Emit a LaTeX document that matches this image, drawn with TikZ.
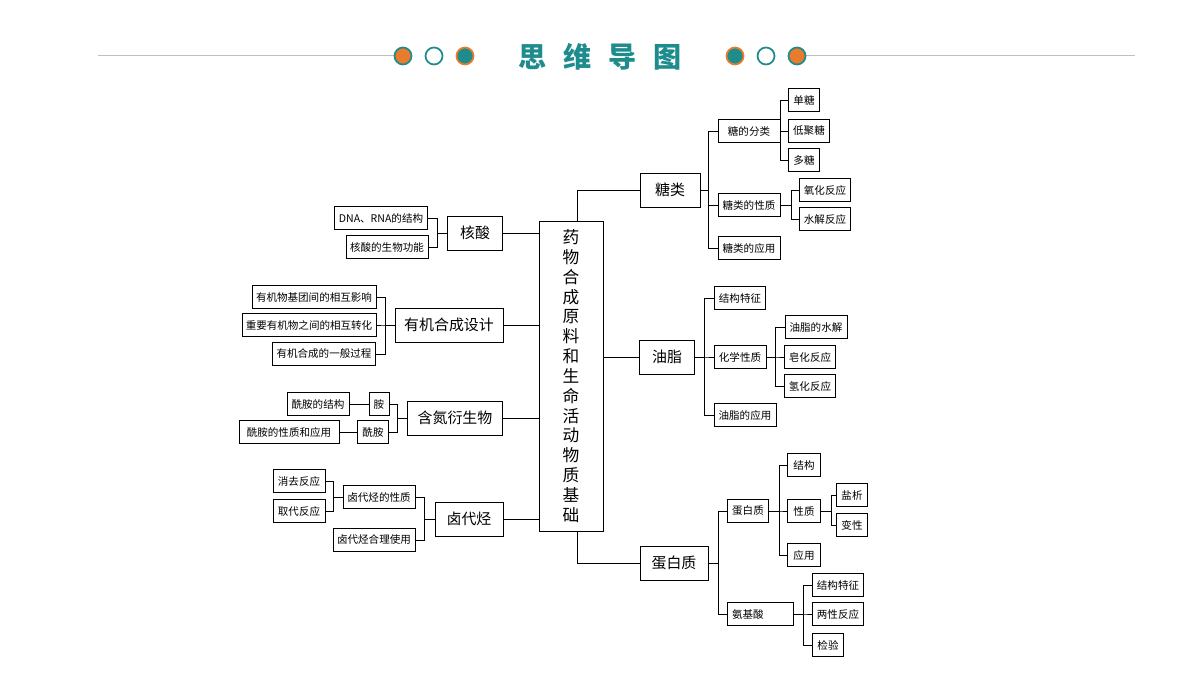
\documentclass[tikz,border=0pt]{standalone}
\usepackage{fontspec}
\setmainfont{Noto Sans CJK SC}
\usetikzlibrary{positioning}
\definecolor{teal1}{HTML}{1E8C8C}
\definecolor{orange1}{HTML}{E87B2C}
\newlength{\pxu}\setlength{\pxu}{0.02cm}
\tikzset{
  leaf/.style={draw, thin, inner sep=0pt, minimum height=23\pxu, font=\fontsize{6}{7}\selectfont},
  mid/.style={draw, thin, inner sep=0pt, minimum height=34\pxu, font=\fontsize{8.5}{9}\selectfont},
  link/.style={draw, thin},
}
\newcommand{\rbranch}[3]{\draw[link] (#1.east) -- ++(#2\pxu,0) |- (#3.west);}
\newcommand{\lbranch}[3]{\draw[link] (#1.west) -- ++(-#2\pxu,0) |- (#3.east);}
\begin{document}
\begin{tikzpicture}[x=0.02cm, y=-0.02cm]
\useasboundingbox (0,0) rectangle (1200,675);
%% title bar
\draw[gray!50, thin] (98,55) -- (395,55);
\draw[gray!50, thin] (805,55) -- (1135,55);
\draw[teal1, line width=1pt, fill=orange1] (403,56) circle (8.5);
\draw[teal1, line width=1pt, fill=white] (434,56) circle (8.5);
\draw[orange1, line width=1pt, fill=teal1] (465,56) circle (8.5);
\draw[orange1, line width=1pt, fill=teal1] (735,56) circle (8.5);
\draw[teal1, line width=1pt, fill=white] (766,56) circle (8.5);
\draw[teal1, line width=1pt, fill=orange1] (797,56) circle (8.5);
\node[text=teal1, font=\fontsize{16}{18}\bfseries] (title) at (600,57) {思\hspace{0.6em}维\hspace{0.6em}导\hspace{0.6em}图};
%% center
\node[draw, thin, minimum width=64\pxu, minimum height=310\pxu, align=center, font=\fontsize{9.5}{11.3}\selectfont] (root) at (571,376)
  {药\\物\\合\\成\\原\\料\\和\\生\\命\\活\\动\\物\\质\\基\\础};
%% left side
\node[mid, minimum width=55\pxu] (hs) at (475,233) {核酸};
\node[leaf, minimum width=93\pxu] (hs1) at (381,218) {DNA、RNA的结构};
\node[leaf, minimum width=82\pxu] (hs2) at (387,247) {核酸的生物功能};
\node[mid, minimum width=108\pxu] (yj) at (449,325) {有机合成设计};
\node[leaf, minimum width=124\pxu] (yj1) at (314,297) {有机物基团间的相互影响};
\node[leaf, minimum width=134\pxu] (yj2) at (309,325) {重要有机物之间的相互转化};
\node[leaf, minimum width=103\pxu] (yj3) at (324,354) {有机合成的一般过程};
\node[mid, minimum width=95\pxu] (hd) at (455,418) {含氮衍生物};
\node[leaf, minimum width=20\pxu] (an) at (379,404) {胺};
\node[leaf, minimum width=31\pxu] (xa) at (373,432) {酰胺};
\node[leaf, minimum width=62\pxu] (an1) at (318,404) {酰胺的结构};
\node[leaf, minimum width=100\pxu] (xa1) at (289,432) {酰胺的性质和应用};
\node[mid, minimum width=68\pxu] (ld) at (469,519) {卤代烃};
\node[leaf, minimum width=72\pxu] (ld1) at (379,497) {卤代烃的性质};
\node[leaf, minimum width=82\pxu] (ld2) at (374,540) {卤代烃合理使用};
\node[leaf, minimum width=52\pxu] (xq) at (299,481) {消去反应};
\node[leaf, minimum width=52\pxu] (qd) at (299,511) {取代反应};
\foreach \n in {hs,yj,hd,ld} \draw[link] (root.west |- \n) -- (\n.east);
\foreach \c in {hs1,hs2} {\lbranch{hs}{10}{\c}}
\foreach \c in {yj1,yj2,yj3} {\lbranch{yj}{9}{\c}}
\foreach \c in {an,xa} {\lbranch{hd}{10}{\c}}
\draw[link] (an.west) -- (an1.east);
\draw[link] (xa.west) -- (xa1.east);
\foreach \c in {ld1,ld2} {\lbranch{ld}{10}{\c}}
\foreach \c in {xq,qd} {\lbranch{ld1}{9}{\c}}
%% right side
\node[mid, minimum width=60\pxu] (tl) at (670,190) {糖类};
\node[mid, minimum width=55\pxu] (yz) at (667,357) {油脂};
\node[mid, minimum width=68\pxu] (db) at (674,563) {蛋白质};
\coordinate (rtop) at (577,221);
\coordinate (rbot) at (577,531);
\draw[link] (rtop) |- (tl.west);
\draw[link] (root.east |- yz) -- (yz.west);
\draw[link] (rbot) |- (db.west);
\node[leaf, minimum width=62\pxu] (tl1) at (749,131) {糖的分类};
\node[leaf, minimum width=62\pxu] (tl2) at (749,205) {糖类的性质};
\node[leaf, minimum width=62\pxu] (tl3) at (749,248) {糖类的应用};
\foreach \c in {tl1,tl2,tl3} {\rbranch{tl}{8}{\c}}
\node[leaf, minimum width=31\pxu] (dt) at (804,100) {单糖};
\node[leaf, minimum width=41\pxu] (dj) at (809,131) {低聚糖};
\node[leaf, minimum width=31\pxu] (dut) at (804,160) {多糖};
\foreach \c in {dt,dj,dut} {\rbranch{tl1}{0}{\c}}
\node[leaf, minimum width=51\pxu] (yh) at (825,190) {氧化反应};
\node[leaf, minimum width=51\pxu] (sj) at (825,219) {水解反应};
\foreach \c in {yh,sj} {\rbranch{tl2}{11}{\c}}
\node[leaf, minimum width=51\pxu] (yz1) at (740,298) {结构特征};
\node[leaf, minimum width=52\pxu] (yz2) at (740,357) {化学性质};
\node[leaf, minimum width=62\pxu] (yz3) at (745,415) {油脂的应用};
\foreach \c in {yz1,yz2,yz3} {\rbranch{yz}{9}{\c}}
\node[leaf, minimum width=62\pxu] (sj2) at (816,327) {油脂的水解};
\node[leaf, minimum width=51\pxu] (zh) at (810,357) {皂化反应};
\node[leaf, minimum width=51\pxu] (lh) at (810,386) {氢化反应};
\foreach \c in {sj2,zh,lh} {\rbranch{yz2}{9}{\c}}
\node[leaf, minimum width=41\pxu] (db1) at (748,511) {蛋白质};
\node[leaf, minimum width=66\pxu, text width=56\pxu, align=left] (ajs) at (760,614) {氨基酸};
\foreach \c in {db1,ajs} {\rbranch{db}{10}{\c}}
\node[leaf, minimum width=33\pxu] (jg) at (804,465) {结构};
\node[leaf, minimum width=33\pxu] (xz) at (804,511) {性质};
\node[leaf, minimum width=33\pxu] (yy) at (804,555) {应用};
\foreach \c in {jg,xz,yy} {\rbranch{db1}{10}{\c}}
\node[leaf, minimum width=31\pxu] (yx) at (852,495) {盐析};
\node[leaf, minimum width=31\pxu] (bx) at (852,525) {变性};
\foreach \c in {yx,bx} {\rbranch{xz}{10}{\c}}
\node[leaf, minimum width=51\pxu] (a1) at (838,585) {结构特征};
\node[leaf, minimum width=51\pxu] (a2) at (838,614) {两性反应};
\node[leaf, minimum width=31\pxu] (a3) at (828,645) {检验};
\foreach \c in {a1,a2,a3} {\rbranch{ajs}{10}{\c}}
\end{tikzpicture}
\end{document}
